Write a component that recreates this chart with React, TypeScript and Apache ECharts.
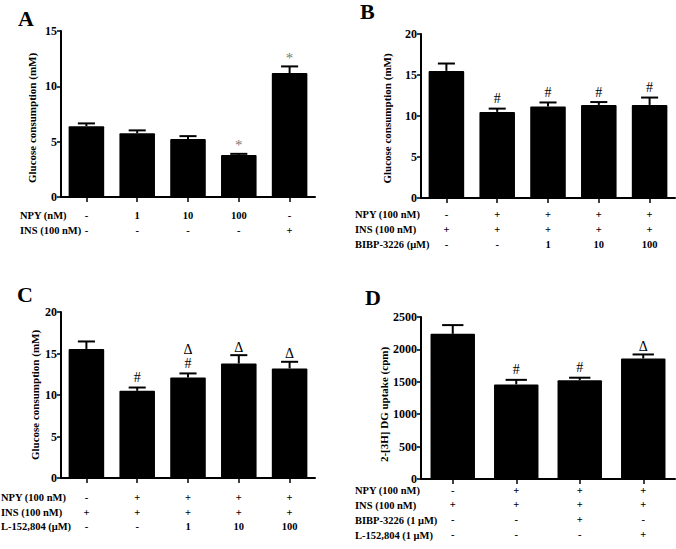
import React, { useEffect, useRef } from 'react';
import * as echarts from 'echarts';

const FONT = '"Liberation Serif", "Times New Roman", Times, serif';

// ---------- Panel A ----------
const groupsA = ['a1', 'a2', 'a3', 'a4', 'a5'];
const meanA = [6.4, 5.75, 5.25, 3.8, 11.2];
const semA = [0.25, 0.27, 0.25, 0.1, 0.6];
const marksA = ['', '', '', '*', '*'];
const rowNamesA = ['NPY (nM)', 'INS (100 nM)'];
const rowNPY_A = ['-', '1', '10', '100', '-'];
const rowINS_A = ['-', '-', '-', '-', '+'];

// ---------- Panel B ----------
const groupsB = ['b1', 'b2', 'b3', 'b4', 'b5'];
const meanB = [15.5, 10.5, 11.15, 11.35, 11.35];
const semB = [0.9, 0.4, 0.5, 0.35, 0.9];
const marksB = ['', '#', '#', '#', '#'];
const rowNamesB = ['NPY (100 nM)', 'INS (100 nM)', 'BIBP-3226 (μM)'];
const rowNPY_B = ['-', '+', '+', '+', '+'];
const rowINS_B = ['+', '+', '+', '+', '+'];
const rowBIBP_B = ['-', '-', '1', '10', '100'];

// ---------- Panel C ----------
const groupsC = ['c1', 'c2', 'c3', 'c4', 'c5'];
const meanC = [15.55, 10.5, 12.1, 13.8, 13.2];
const semC = [0.9, 0.4, 0.5, 1.0, 0.8];
const marksC = ['', '#', 'Δ\n#', 'Δ', 'Δ'];
const rowNamesC = ['NPY (100 nM)', 'INS (100 nM)', 'L-152,804 (μM)'];
const rowNPY_C = ['-', '+', '+', '+', '+'];
const rowINS_C = ['+', '+', '+', '+', '+'];
const rowL_C = ['-', '-', '1', '10', '100'];

// ---------- Panel D ----------
const groupsD = ['d1', 'd2', 'd3', 'd4'];
const meanD = [2240, 1460, 1525, 1860];
const semD = [135, 70, 38, 62];
const marksD = ['', '#', '#', 'Δ'];
const rowNamesD = ['NPY (100 nM)', 'INS (100 nM)', 'BIBP-3226 (1 μM)', 'L-152,804 (1 μM)'];
const rowNPY_D = ['-', '+', '+', '+'];
const rowINS_D = ['+', '+', '+', '+'];
const rowBIBP_D = ['-', '-', '+', '-'];
const rowL_D = ['-', '-', '-', '+'];

// y-axis ticks
const yMaxA = 15, yStepA = 5;
const yMaxB = 20, yStepB = 5;
const yMaxC = 20, yStepC = 5;
const yMaxD = 2500, yStepD = 500;

const panels = [
  {
    letter: 'A', groups: groupsA, mean: meanA, sem: semA, marks: marksA,
    rowNames: rowNamesA, rows: [rowNPY_A, rowINS_A], yMax: yMaxA, yStep: yStepA,
    yName: 'Glucose consumption (mM)',
    layout: { left: 61, top: 31, width: 254, height: 166, rowOffsets: [18, 33], rowHeadX: 20, nameGap: 24,
      namePad: 8, letterX: 18, letterY: 24 },
  },
  {
    letter: 'B', groups: groupsB, mean: meanB, sem: semB, marks: marksB,
    rowNames: rowNamesB, rows: [rowNPY_B, rowINS_B, rowBIBP_B], yMax: yMaxB, yStep: yStepB,
    yName: 'Glucose consumption (mM)',
    layout: { left: 421, top: 34, width: 254, height: 164, rowOffsets: [16, 31, 46], rowHeadX: 355, nameGap: 29,
      namePad: 5, letterX: 360, letterY: 17 },
  },
  {
    letter: 'C', groups: groupsC, mean: meanC, sem: semC, marks: marksC,
    rowNames: rowNamesC, rows: [rowNPY_C, rowINS_C, rowL_C], yMax: yMaxC, yStep: yStepC,
    yName: 'Glucose consumption (mM)',
    layout: { left: 61, top: 312, width: 254, height: 166, rowOffsets: [19, 34, 48], rowHeadX: 1, nameGap: 21,
      namePad: 0, letterX: 17, letterY: 300 },
  },
  {
    letter: 'D', groups: groupsD, mean: meanD, sem: semD, marks: marksD,
    rowNames: rowNamesD, rows: [rowNPY_D, rowINS_D, rowBIBP_D, rowL_D], yMax: yMaxD, yStep: yStepD,
    yName: '2-[3H] DG uptake (cpm)',
    layout: { left: 421, top: 317, width: 254, height: 162, rowOffsets: [11, 25.5, 40.5, 55.5], rowHeadX: 355, nameGap: 27,
      namePad: 13, letterX: 365, letterY: 303 },
  },
];

function buildOption() {
  const grid: any[] = [];
  const xAxis: any[] = [];
  const yAxis: any[] = [];
  const series: any[] = [];
  const graphic: any[] = [];

  panels.forEach((p, pi) => {
    const L = p.layout;
    grid.push({ left: L.left, top: L.top, width: L.width, height: L.height, containLabel: false });
    const mainX = xAxis.length;
    xAxis.push({
      type: 'category', gridIndex: pi, data: p.groups,
      axisLine: { show: true, lineStyle: { color: '#000', width: 2 } },
      axisTick: { show: true, alignWithLabel: true, length: 5, lineStyle: { color: '#000', width: 1.5 } },
      axisLabel: { show: false },
      splitLine: { show: false },
    });
    p.rows.forEach((row, ri) => {
      xAxis.push({
        type: 'category', gridIndex: pi, data: p.groups, position: 'bottom',
        offset: L.rowOffsets[ri],
        axisLine: { show: false }, axisTick: { show: false }, splitLine: { show: false },
        axisLabel: {
          show: true, interval: 0, margin: 0, verticalAlign: 'middle', lineHeight: 10,
          fontFamily: FONT, fontWeight: 'bold', fontSize: 10.5, color: '#000',
          formatter: (_v: string, idx: number) => row[idx],
        },
      });
      graphic.push({
        type: 'text', left: L.rowHeadX, top: L.top + L.height + L.rowOffsets[ri] - 5,
        style: {
          text: p.rowNames[ri], fontFamily: FONT, fontWeight: 'bold', fontSize: 10.5,
          lineHeight: 10, fill: '#000',
        },
      });
    });
    yAxis.push({
      type: 'value', gridIndex: pi, min: 0, max: p.yMax, interval: p.yStep,
      name: p.yName, nameLocation: 'middle', nameGap: L.nameGap, nameRotate: 90,
      nameTextStyle: {
        fontFamily: FONT, fontWeight: 'bold', fontSize: 11, color: '#000',
        padding: [0, L.namePad, 0, 0],
      },
      axisLine: { show: true, lineStyle: { color: '#000', width: 2 } },
      axisTick: { show: true, length: 4, lineStyle: { color: '#000', width: 1.5 } },
      axisLabel: {
        fontFamily: FONT, fontWeight: 'bold', fontSize: 12, lineHeight: 10, color: '#000', margin: 4,
        formatter: (v: number) => String(v),
      },
      splitLine: { show: false },
    });
    series.push({
      type: 'bar', xAxisIndex: mainX, yAxisIndex: pi, data: p.mean,
      barWidth: '70%', itemStyle: { color: '#000', borderRadius: 1 }, silent: true,
    });
    const sem = p.sem;
    const marks = p.marks;
    series.push({
      type: 'custom', xAxisIndex: mainX, yAxisIndex: pi, silent: true, z: 5,
      data: p.mean.map((m, i) => [i, m, m + sem[i]]),
      renderItem: (params: any, api: any) => {
        const i = api.value(0);
        const base = api.coord([i, api.value(1)]);
        const top = api.coord([i, api.value(2)]);
        const bw = (api.size([1, 0])[0] as number) * 0.7;
        const cw = bw * 0.48;
        const children: any[] = [
          { type: 'line', shape: { x1: base[0], y1: base[1], x2: top[0], y2: top[1] },
            style: { stroke: '#000', lineWidth: 2 } },
          { type: 'line', shape: { x1: top[0] - cw / 2, y1: top[1], x2: top[0] + cw / 2, y2: top[1] },
            style: { stroke: '#000', lineWidth: 2 } },
        ];
        const mk = marks[params.dataIndex];
        if (mk) {
          const lines = mk.split('\n');
          let y = top[1];
          for (let k = lines.length - 1; k >= 0; k--) {
            const t = lines[k];
            const gap = t === '#' ? 3 : 1;
            y -= gap;
            children.push({
              type: 'text', x: top[0], y,
              style: {
                text: t, fontFamily: FONT, fontSize: t === '*' ? 15 : 14,
                fill: t === '*' ? '#7a7a7a' : '#000',
                align: 'center', verticalAlign: 'bottom',
              },
            });
            y -= 13;
          }
        }
        return { type: 'group', children };
      },
    });
    graphic.push({
      type: 'text', left: L.letterX, top: L.letterY - 17,
      style: { text: p.letter, fontFamily: FONT, fontWeight: 'bold', fontSize: 22, fill: '#000' },
    });
  });

  return { animation: false, backgroundColor: '#fff', grid, xAxis, yAxis, series, graphic };
}

export default function App() {
  const ref = useRef<HTMLDivElement>(null);
  useEffect(() => {
    if (!ref.current) return;
    const chart = echarts.init(ref.current, null, { renderer: 'svg' });
    chart.setOption(buildOption() as any);
    return () => chart.dispose();
  }, []);
  return (
    <div
      ref={ref}
      style={{ position: 'fixed', left: 0, top: 0, width: 676, height: 549, background: '#fff' }}
    />
  );
}
